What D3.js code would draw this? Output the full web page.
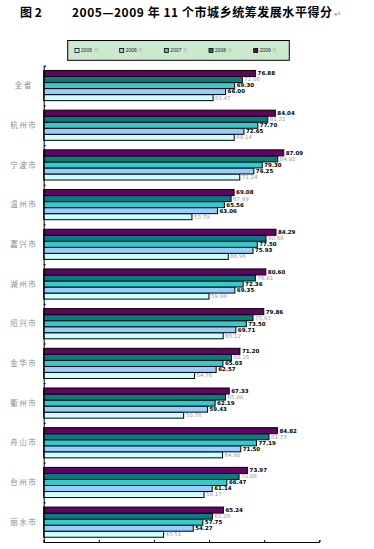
<!DOCTYPE html>
<html>
<head>
<meta charset="utf-8">
<script src="https://cdn.jsdelivr.net/npm/d3@7"></script>
<style>
  body { margin: 0; background: #fff; }
  svg { display: block; }
</style>
</head>
<body>
<svg id="chart"></svg>
<script>
// data
const cities = ['全省', '杭州市', '宁波市', '温州市', '嘉兴市', '湖州市', '绍兴市', '金华市', '衢州市', '舟山市', '台州市', '丽水市'];
const years = ['2005', '2006', '2007', '2008', '2009'];
const v2005 = [61.47, 69.14, 71.14, 53.79, 66.96, 59.98, 65.12, 54.76, 50.78, 64.90, 58.17, 43.51];
const v2006 = [66.00, 72.65, 76.25, 63.06, 75.93, 69.35, 69.71, 62.57, 59.43, 71.50, 61.14, 54.27];
const v2007 = [69.30, 77.70, 79.30, 65.56, 77.50, 72.36, 73.50, 65.03, 62.19, 77.19, 66.47, 57.75];
const v2008 = [72.06, 81.31, 84.92, 67.99, 80.66, 76.81, 75.93, 68.15, 65.98, 81.73, 70.88, 61.26];
const v2009 = [76.88, 84.04, 87.09, 69.08, 84.29, 80.60, 79.86, 71.20, 67.33, 84.82, 73.97, 65.24];
const xTicks = [0, 20, 40, 60, 80, 100];

const series = [v2005, v2006, v2007, v2008, v2009];
const rows = cities.map((c, i) => ({city: c, vals: years.map((y, j) => ({year: y, value: series[j][i]}))}));

const W = 374, H = 549;
const margin = {top: 65.7, right: 54.7, bottom: 7, left: 43.7};
const width = W - margin.left - margin.right;
const height = H - margin.top - margin.bottom;

const colors = d3.scaleOrdinal()
    .domain(years)
    .range(['#ccffff', '#99ccff', '#33cccc', '#008080', '#660066']);
const labelColor = d3.scaleOrdinal()
    .domain(years)
    .range(['#9a9a9a', '#000', '#000', '#9a9a9a', '#000']);

const svg = d3.select('#chart').attr('width', W).attr('height', H);

// title
const title = svg.append('text')
    .attr('y', 17)
    .style('font-family', '"Noto Sans CJK SC", sans-serif')
    .style('font-weight', 700)
    .style('font-size', '12px');
title.append('tspan').attr('x', 20).text('图 2');
title.append('tspan').attr('x', 72).attr('textLength', 260).text('2005—2009 年 11 个市城乡统筹发展水平得分');
title.append('tspan').attr('dx', 1).style('fill', '#999').style('font-weight', 400).style('font-size', '9px').text('↵');

// legend
const legend = svg.append('g');
legend.append('rect')
    .attr('x', 67.7).attr('y', 40.5)
    .attr('width', 221.6).attr('height', 19.8)
    .attr('fill', '#cde9cd')
    .attr('stroke', '#000')
    .attr('stroke-width', 1);
const legX = d3.scalePoint().domain(years).range([77, 255.7]);
const items = legend.selectAll('.item').data(years).join('g')
    .attr('class', 'item')
    .attr('transform', d => `translate(${legX(d)},50.5)`);
items.append('rect')
    .attr('x', -2).attr('y', -2).attr('width', 4).attr('height', 4)
    .attr('fill', d => colors(d)).attr('stroke', '#000').attr('stroke-width', 0.8);
const lt = items.append('text')
    .attr('x', 4).attr('dy', '0.35em')
    .style('font-family', '"Liberation Sans", sans-serif')
    .style('font-size', '5px');
lt.append('tspan').attr('fill', '#222').text(d => d);
lt.append('tspan').attr('fill', '#aaa').attr('dx', 1.5).text('年');

const chart = svg.append('g').attr('transform', `translate(${margin.left},${margin.top})`);

const xScale = d3.scaleLinear().domain([0, 100]).range([0, width]);
const yScale = d3.scaleBand().domain(cities).range([0, height]).paddingInner(0.24).paddingOuter(0.12);
const yInner = d3.scaleBand().domain(years.slice().reverse()).range([0, yScale.bandwidth()]);
const yBound = d3.scaleLinear().domain([0, cities.length]).range([0, height]);

// bars
const groups = chart.selectAll('.city').data(rows).join('g')
    .attr('class', 'city')
    .attr('transform', d => `translate(0,${yScale(d.city)})`);

groups.selectAll('rect').data(d => d.vals).join('rect')
    .attr('x', 0)
    .attr('y', d => yInner(d.year))
    .attr('width', d => xScale(d.value))
    .attr('height', yInner.bandwidth())
    .attr('fill', d => colors(d.year))
    .attr('stroke', '#000')
    .attr('stroke-width', 1);

groups.selectAll('.val').data(d => d.vals).join('text')
    .attr('class', 'val')
    .attr('x', d => xScale(d.value) + 2)
    .attr('y', d => yInner(d.year) + yInner.bandwidth() / 2)
    .attr('dy', '0.35em')
    .attr('fill', d => labelColor(d.year))
    .style('font-family', '"DejaVu Sans", sans-serif')
    .style('font-weight', d => labelColor(d.year) === '#000' ? 700 : 400)
    .style('font-size', '5.5px')
    .text(d => d.value.toFixed(2));

// category labels
chart.selectAll('.cat').data(cities).join('text')
    .attr('class', 'cat')
    .attr('x', -20)
    .attr('y', d => yScale(d) + yScale.bandwidth() / 2)
    .attr('dy', '0.35em')
    .attr('text-anchor', 'middle')
    .attr('fill', '#8a8a8a')
    .style('font-family', '"Noto Sans CJK SC", sans-serif')
    .style('font-size', '7.5px')
    .style('letter-spacing', '1.5px')
    .text(d => d);

// axes, ticks pointing inward
const xAxis = d3.axisBottom(xScale).tickValues(xTicks).tickSize(-2).tickFormat('');
const yAxis = d3.axisLeft(yBound).ticks(cities.length).tickSize(-2).tickFormat('');

chart.append('g')
    .attr('transform', `translate(0,${height})`)
    .call(xAxis)
    .call(g => g.select('.domain').attr('stroke', '#000'));

chart.append('g')
    .call(yAxis)
    .call(g => g.select('.domain').attr('stroke', '#000'));
</script>
</body>
</html>
